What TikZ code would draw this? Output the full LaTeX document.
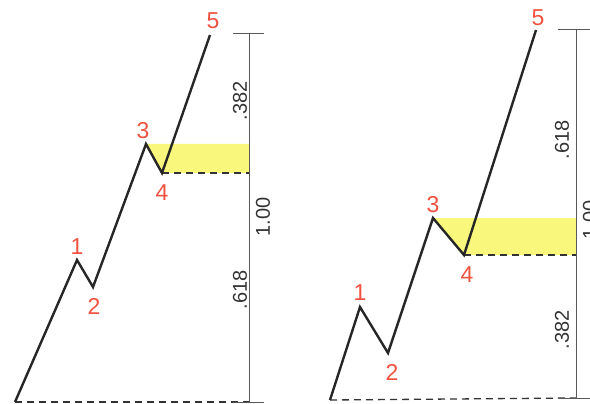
\documentclass[tikz,border=0pt]{standalone}
\usepackage{fontspec}
\setmainfont{Liberation Sans}
\usetikzlibrary{calc,positioning}
\definecolor{wavered}{RGB}{240,82,64}
\definecolor{zoneyellow}{RGB}{250,247,125}

\begin{document}
\begin{tikzpicture}[x=1pt,y=-1pt,
	wave/.style={line width=2.4pt,black!85,line join=miter},
	level/.style={line width=1.3pt,black!80,dash pattern=on 7pt off 5pt},
	ruler/.style={line width=1pt,black!65},
	count/.style={text=wavered,font=\fontsize{23}{23}\selectfont,inner sep=0pt},
	ratio/.style={rotate=90,font=\fontsize{20}{20}\selectfont,text=black!80,inner sep=0pt}]
	\useasboundingbox (0,0) rectangle (590,404);
	\clip (0,0) rectangle (590,404);
	
	% ---------- Left: wave 4 ends at .618 of 0-5 ----------
	\begin{scope}[shift={(0,0)}]
		\coordinate (a0) at (15,402);
		\coordinate (a1) at (77,260);
		\coordinate (a2) at (93,287);
		\coordinate (a3) at (146,144);
		\coordinate (a4) at (162,173);
		\coordinate (a5) at (210,35);
		\coordinate (atop) at (249,34);
		\coordinate (abot) at (249,402);
		
		% shaded: retracement zone 3-4
		\fill[zoneyellow] (a3) -- (a3 -| atop) -- (a4 -| atop) -- (a4) -- cycle;
		
		\draw[level] (a4) -- (a4 -| atop);
		\draw[level] (a0) -- (abot);
		\draw[ruler] (atop) -- (abot);
		\draw[ruler] ($(atop)+(-16,0)$) -- ($(atop)+(15,0)$);
		\draw[ruler] ($(abot)+(-16,0)$) -- ($(abot)+(15,0)$);
		\draw[wave] (a0) -- (a1) -- (a2) -- (a3) -- (a4) -- (a5);
		
		\node[count] (la1) at (77,247) {1};
		\node[count] (la2) at (94,306) {2};
		\node[count] (la3) at (143,131) {3};
		\node[count] (la4) at (162,193) {4};
		\node[count] (la5) at (213,21) {5};
		\node[ratio] (ra1) at (240,101) {.382};
		\node[ratio] (ra2) at (263,217) {1.00};
		\node[ratio] (ra3) at (240,290) {.618};
	\end{scope}
	
	% ---------- Right: wave 4 ends at .382 of 0-5 ----------
	\begin{scope}[shift={(300,0)}]
		\coordinate (b0) at (30,400);
		\coordinate (b1) at (60,307);
		\coordinate (b2) at (88,353);
		\coordinate (b3) at (133,218);
		\coordinate (b4) at (164,255);
		\coordinate (b5) at (236,30);
		\coordinate (btop) at (276,30);
		\coordinate (bbot) at (276,398);
		
		% shaded: retracement zone 3-4
		\fill[zoneyellow] (b3) -- (b3 -| btop) -- (b4 -| btop) -- (b4) -- cycle;
		
		\draw[level] (b4) -- (b4 -| btop);
		\draw[level] (b0) -- (bbot);
		\draw[ruler] (btop) -- (bbot);
		\draw[ruler] ($(btop)+(-18,0)$) -- ($(btop)+(16,0)$);
		\draw[ruler] ($(bbot)+(-18,0)$) -- ($(bbot)+(16,0)$);
		\draw[wave] (b0) -- (b1) -- (b2) -- (b3) -- (b4) -- (b5);
		
		\node[count] (lb1) at (60,293) {1};
		\node[count] (lb2) at (92,372) {2};
		\node[count] (lb3) at (133,205) {3};
		\node[count] (lb4) at (167,275) {4};
		\node[count] (lb5) at (238,18) {5};
		\node[ratio] (rb1) at (262,140) {.618};
		\node[ratio] (rb2) at (290,220) {1.00};
		\node[ratio] (rb3) at (262,330) {.382};
	\end{scope}
	
\end{tikzpicture}
\end{document}
